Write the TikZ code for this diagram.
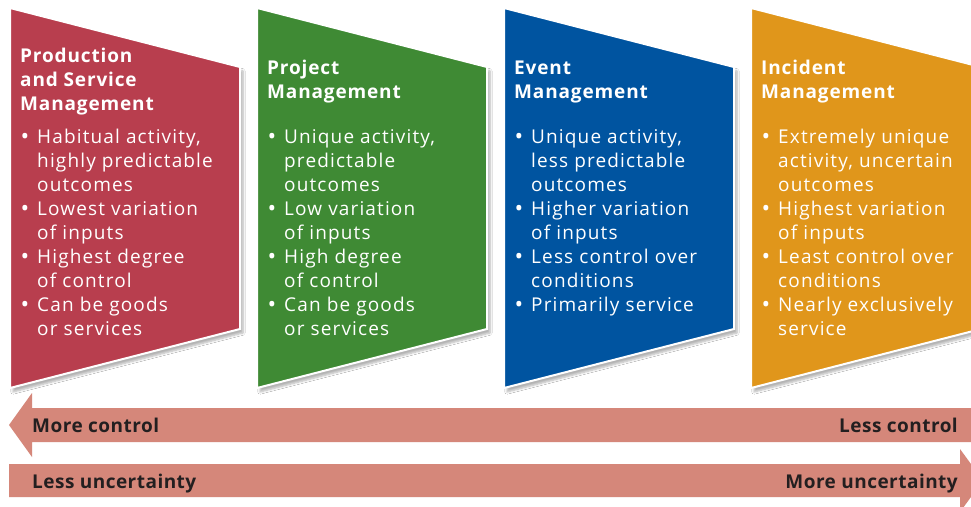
\documentclass[tikz,border=0pt]{standalone}
\usepackage{fontspec}
\setmainfont{Open Sans}
\newfontfamily\bodyfont[LetterSpace=6]{Open Sans}
\newfontfamily\headfont[LetterSpace=4.5]{Open Sans}
\newfontfamily\labfont[LetterSpace=2.5]{Open Sans}
\usetikzlibrary{shadows.blur}
\definecolor{cred}{RGB}{184,62,78}
\definecolor{cgreen}{RGB}{63,138,52}
\definecolor{cblue}{RGB}{0,84,160}
\definecolor{corange}{RGB}{224,150,27}
\definecolor{arrowc}{RGB}{213,135,122}
\definecolor{labc}{RGB}{35,31,32}
\newcommand{\bl}{\makebox[17pt][l]{\hspace{0.5pt}\raisebox{-1.2pt}{\fontsize{23}{24}\selectfont\textbullet}}}
\newcommand{\ind}{\hspace{17pt}}
\begin{document}
\begin{tikzpicture}[x=1pt,y=-1pt,
  panel/.style={draw=white, line width=2pt, line join=miter,
    blur shadow={shadow xshift=3pt, shadow yshift=-4pt, shadow blur steps=6, shadow opacity=30}},
  head/.style={anchor=base west, inner sep=0pt, text=white, font=\headfont\fontsize{19}{24}\selectfont\bfseries},
  body/.style={anchor=base west, inner sep=0pt, text=white, font=\bodyfont\fontsize{19}{24}\selectfont},
  bar/.style={fill=arrowc},
  lab/.style={inner sep=0pt, text=labc, font=\labfont\fontsize{19}{24}\selectfont\bfseries}]
\clip (0,0) rectangle (971,506);
\fill[white] (0,0) rectangle (971,506);
% panels
\path[panel, fill=cred]    (10,8)  -- (240,67) -- (240,329) -- (10,388)  -- cycle;
\path[panel, fill=cgreen]  (257,8) -- (487,67) -- (487,329) -- (257,388) -- cycle;
\path[panel, fill=cblue]   (504,8) -- (734,67) -- (734,329) -- (504,388) -- cycle;
\path[panel, fill=corange] (751,8) -- (981,67) -- (981,329) -- (751,388) -- cycle;
% headings
\node[head] (h1) at (20,62) {\begin{tabular}[t]{@{}l@{}}Production\\and Service\\Management\end{tabular}};
\node[head] (h2) at (267,74) {\begin{tabular}[t]{@{}l@{}}Project\\Management\end{tabular}};
\node[head] (h3) at (514,74) {\begin{tabular}[t]{@{}l@{}}Event\\Management\end{tabular}};
\node[head] (h4) at (761,74) {\begin{tabular}[t]{@{}l@{}}Incident\\Management\end{tabular}};
% bodies
\node[body] (b1) at (20,143) {\begin{tabular}[t]{@{}l@{}}
\bl Habitual activity,\\ \ind highly predictable\\ \ind outcomes\\
\bl Lowest variation\\ \ind of inputs\\
\bl Highest degree\\ \ind of control\\
\bl Can be goods\\ \ind or services\end{tabular}};
\node[body] (b2) at (267,143) {\begin{tabular}[t]{@{}l@{}}
\bl Unique activity,\\ \ind predictable\\ \ind outcomes\\
\bl Low variation\\ \ind of inputs\\
\bl High degree\\ \ind of control\\
\bl Can be goods\\ \ind or services\end{tabular}};
\node[body] (b3) at (514,143) {\begin{tabular}[t]{@{}l@{}}
\bl Unique activity,\\ \ind less predictable\\ \ind outcomes\\
\bl Higher variation\\ \ind of inputs\\
\bl Less control over\\ \ind conditions\\
\bl Primarily service\end{tabular}};
\node[body] (b4) at (761,143) {\begin{tabular}[t]{@{}l@{}}
\bl Extremely unique\\ \ind activity, uncertain\\ \ind outcomes\\
\bl Highest variation\\ \ind of inputs\\
\bl Least control over\\ \ind conditions\\
\bl Nearly exclusively\\ \ind service\end{tabular}};
% arrows
\path[bar] (9,425) -- (32,393) -- (32,408) -- (980,408) -- (980,442) -- (32,442) -- (32,457) -- cycle;
\path[bar] (9,464) -- (960,464) -- (960,449) -- (983,480.5) -- (960,512) -- (960,497) -- (9,497) -- cycle;
\node[lab, anchor=base west] (mc) at (32,432) {More control};
\node[lab, anchor=base east] (lc) at (958,432) {Less control};
\node[lab, anchor=base west] (lu) at (32,488) {Less uncertainty};
\node[lab, anchor=base east] (mu) at (958,488) {More uncertainty};
\end{tikzpicture}
\end{document}
